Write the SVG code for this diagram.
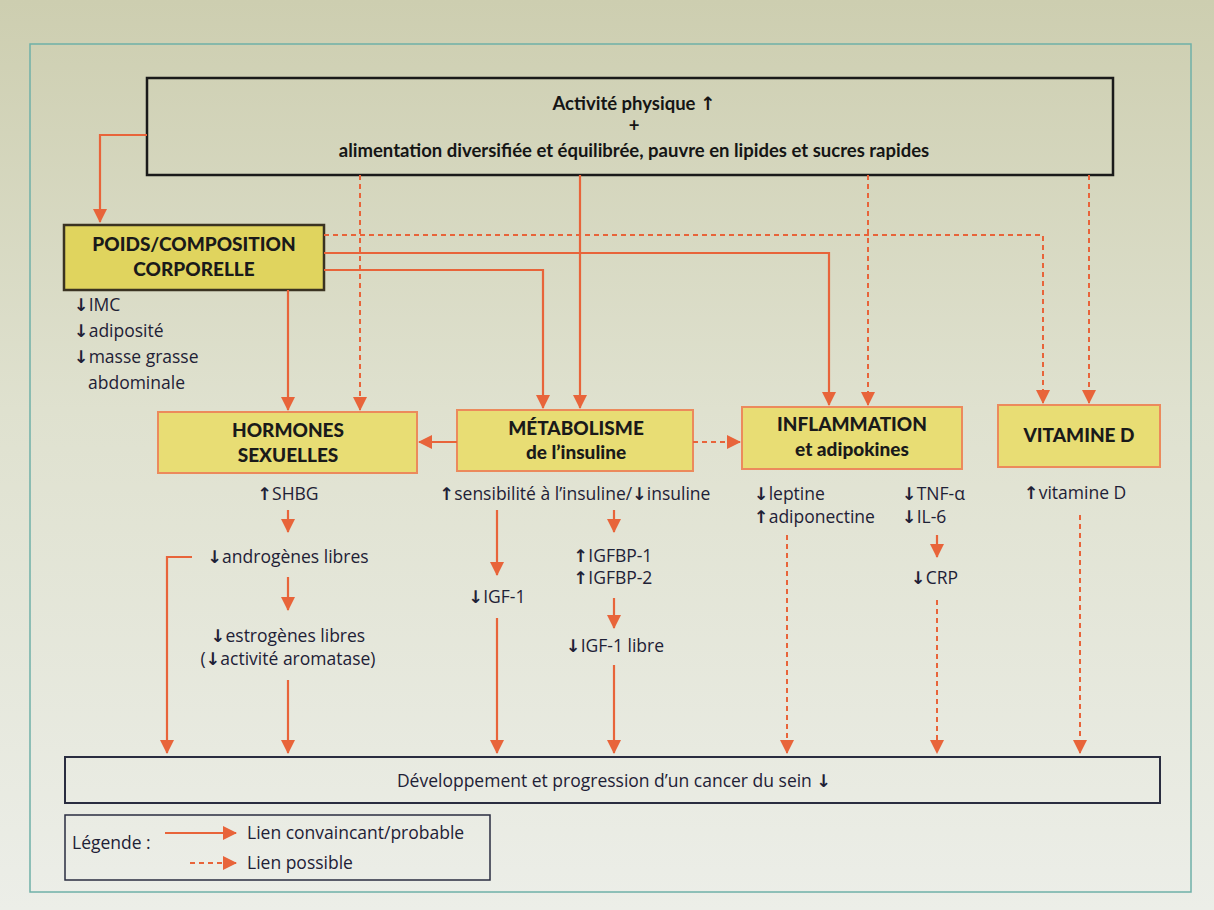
<svg xmlns="http://www.w3.org/2000/svg" width="1214" height="910" viewBox="0 0 1214 910">
<defs>
<linearGradient id="bg" x1="0" y1="0" x2="0" y2="1">
<stop offset="0" stop-color="#cdceb0"/>
<stop offset="0.45" stop-color="#dfe1cf"/>
<stop offset="1" stop-color="#eceee8"/>
</linearGradient>
<marker id="ah" markerUnits="userSpaceOnUse" markerWidth="14" markerHeight="14" viewBox="0 0 14 14" refX="13" refY="7" orient="auto">
<path d="M0,0 L14,7 L0,14 Z" fill="#e8643a"/>
</marker>
<style>
text{font-family:"Open Sans",Lato,"DejaVu Sans",sans-serif;fill:#1e2136}
.t{font-family:Lato,"Open Sans",sans-serif;font-size:18.5px;font-weight:bold;text-anchor:middle;fill:#151515}
.n{font-family:Lato,"Open Sans",sans-serif;font-size:19px;font-weight:900;text-anchor:middle;fill:#1a1a1a}
.l{font-size:17.5px}
.c{font-size:17.5px;text-anchor:middle}
.a{font-family:"DejaVu Sans",sans-serif;font-weight:bold}
.box{fill:#e8dd74;stroke:#ec8a5c;stroke-width:2}
.s{fill:none;stroke:#e8643a;stroke-width:2.2;marker-end:url(#ah)}
.d{fill:none;stroke:#e8643a;stroke-width:2;stroke-dasharray:5 4;marker-end:url(#ah)}
</style>
</defs>
<rect x="0" y="0" width="1214" height="910" fill="url(#bg)"/>
<rect x="30" y="44" width="1161" height="848" fill="none" stroke="#6fb0a8" stroke-width="1.5"/>

<g id="top">
<rect x="147" y="78" width="966" height="97" fill="none" stroke="#1a1a1a" stroke-width="2.5"/>
<text class="t" x="634" y="110">Activité physique <tspan class="a">↑</tspan></text>
<text class="t" x="634" y="132">+</text>
<text class="t" x="634" y="157">alimentation diversifiée et équilibrée, pauvre en lipides et sucres rapides</text>
</g>

<g id="poids">
<rect x="64" y="225" width="260" height="65" fill="#e0d45e" stroke="#3a3322" stroke-width="2.5"/>
<text class="n" x="194" y="251">POIDS/COMPOSITION</text>
<text class="n" x="194" y="276">CORPORELLE</text>
<text class="l" x="74" y="311"><tspan class="a">↓</tspan>IMC</text>
<text class="l" x="74" y="337"><tspan class="a">↓</tspan>adiposité</text>
<text class="l" x="74" y="363"><tspan class="a">↓</tspan>masse grasse</text>
<text class="l" x="88" y="389">abdominale</text>
</g>

<g id="hormones">
<rect class="box" x="158" y="412" width="259" height="61"/>
<text class="n" x="288" y="437">HORMONES</text>
<text class="n" x="288" y="462">SEXUELLES</text>
<text class="c" x="288" y="500"><tspan class="a">↑</tspan>SHBG</text>
<text class="c" x="288" y="563"><tspan class="a">↓</tspan>androgènes libres</text>
<text class="c" x="288" y="642"><tspan class="a">↓</tspan>estrogènes libres</text>
<text class="c" x="288" y="665">(<tspan class="a">↓</tspan>activité aromatase)</text>
</g>

<g id="metabolisme">
<rect class="box" x="457" y="410" width="236" height="61"/>
<text class="n" x="576" y="435">MÉTABOLISME</text>
<text class="n" x="576" y="459">de l’insuline</text>
<text class="c" x="575" y="500"><tspan class="a">↑</tspan>sensibilité à l’insuline/<tspan class="a">↓</tspan>insuline</text>
<text class="c" x="497" y="603"><tspan class="a">↓</tspan>IGF-1</text>
<text class="c" x="613" y="562"><tspan class="a">↑</tspan>IGFBP-1</text>
<text class="c" x="613" y="584"><tspan class="a">↑</tspan>IGFBP-2</text>
<text class="c" x="615" y="652"><tspan class="a">↓</tspan>IGF-1 libre</text>
</g>

<g id="inflammation">
<rect class="box" x="742" y="407" width="220" height="62"/>
<text class="n" x="852" y="431">INFLAMMATION</text>
<text class="n" x="852" y="456">et adipokines</text>
<text class="l" x="754" y="500"><tspan class="a">↓</tspan>leptine</text>
<text class="l" x="754" y="523"><tspan class="a">↑</tspan>adiponectine</text>
<text class="l" x="902" y="500"><tspan class="a">↓</tspan>TNF-α</text>
<text class="l" x="902" y="523"><tspan class="a">↓</tspan>IL-6</text>
<text class="l" x="911" y="584"><tspan class="a">↓</tspan>CRP</text>
</g>

<g id="vitamine">
<rect class="box" x="998" y="405" width="162" height="62"/>
<text class="n" x="1079" y="442">VITAMINE D</text>
<text class="l" x="1024" y="499"><tspan class="a">↑</tspan>vitamine D</text>
</g>

<g id="cancer">
<rect x="65" y="757" width="1095" height="46" fill="none" stroke="#2a2d40" stroke-width="2"/>
<text class="c" x="614" y="787">Développement et progression d’un cancer du sein <tspan class="a">↓</tspan></text>
</g>

<g id="legende">
<rect x="65" y="815" width="425" height="65" fill="none" stroke="#2a2d40" stroke-width="1.5"/>
<text class="l" x="72" y="849">Légende :</text>
<line class="s" x1="165" y1="833" x2="236" y2="833"/>
<text class="l" x="247" y="839">Lien convaincant/probable</text>
<line class="d" x1="190" y1="863" x2="236" y2="863"/>
<text class="l" x="247" y="869">Lien possible</text>
</g>

<g id="connectors">
<polyline class="s" points="147,135 100,135 100,222"/>
<line class="d" x1="360" y1="175" x2="360" y2="410"/>
<line class="s" x1="580" y1="175" x2="580" y2="408"/>
<line class="d" x1="868" y1="175" x2="868" y2="405"/>
<line class="d" x1="1089" y1="175" x2="1089" y2="403"/>
<polyline class="d" points="324,235 1043,235 1043,403"/>
<polyline class="s" points="324,253 829,253 829,405"/>
<polyline class="s" points="324,270 543,270 543,408"/>
<line class="s" x1="288" y1="290" x2="288" y2="410"/>
<line class="s" x1="457" y1="442" x2="419" y2="442"/>
<line class="d" x1="693" y1="442" x2="740" y2="442"/>

<line class="s" x1="288" y1="510" x2="288" y2="532"/>
<line class="s" x1="288" y1="577" x2="288" y2="610"/>
<line class="s" x1="288" y1="680" x2="288" y2="753"/>
<polyline class="s" points="192,557 167,557 167,753"/>

<line class="s" x1="497" y1="510" x2="497" y2="575"/>
<line class="s" x1="497" y1="618" x2="497" y2="753"/>
<line class="s" x1="614" y1="510" x2="614" y2="532"/>
<line class="s" x1="614" y1="598" x2="614" y2="628"/>
<line class="s" x1="614" y1="665" x2="614" y2="753"/>

<line class="d" x1="787" y1="535" x2="787" y2="753"/>
<line class="s" x1="937" y1="535" x2="937" y2="557"/>
<line class="d" x1="937" y1="600" x2="937" y2="753"/>
<line class="d" x1="1080" y1="515" x2="1080" y2="753"/>
</g>
</svg>
